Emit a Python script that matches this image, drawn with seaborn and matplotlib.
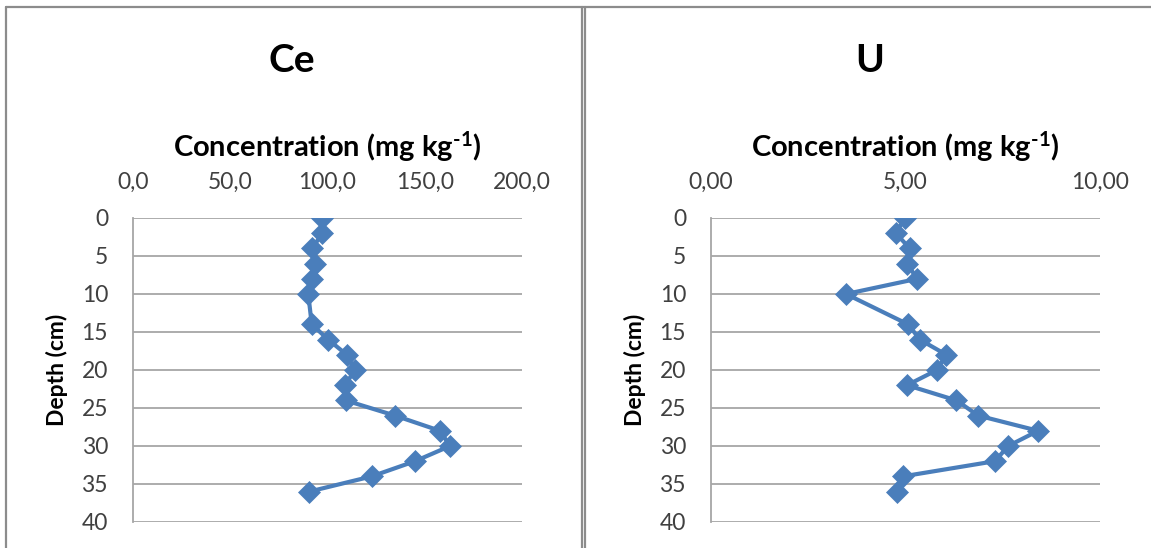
import matplotlib
matplotlib.use("Agg")
import matplotlib.pyplot as plt
import seaborn as sns
from matplotlib.lines import Line2D

# ---- data ----
depth = [0, 2, 4, 6, 8, 10, 14, 16, 18, 20, 22, 24, 26, 28, 30, 32, 34, 36]
ce = [97.3, 97.3, 92.2, 93.6, 92.2, 90.1, 91.9, 100.4, 109.9, 114.1, 109.0,
      109.3, 134.7, 157.8, 163.0, 145.0, 122.7, 90.6]
u = [4.98, 4.75, 5.11, 5.04, 5.30, 3.47, 5.07, 5.37, 6.05, 5.81, 5.04,
     6.31, 6.87, 8.41, 7.64, 7.30, 4.93, 4.79]
titles = ["Ce", "U"]
xlabel = "Concentration (mg kg$^{\\text{-}\\mathbf{1}}$)"
ylabel = "Depth (cm)"
ce_ticks = [0, 50, 100, 150, 200]
ce_ticklabels = ["0,0", "50,0", "100,0", "150,0", "200,0"]
u_ticks = [0, 5, 10]
u_ticklabels = ["0,00", "5,00", "10,00"]
y_ticks = [0, 5, 10, 15, 20, 25, 30, 35, 40]

sns.set_style("white")
plt.rcParams["font.family"] = ["Lato", "DejaVu Sans"]
plt.rcParams["mathtext.fontset"] = "custom"
plt.rcParams["mathtext.rm"] = "Lato:bold"
plt.rcParams["mathtext.bf"] = "Lato:bold"
plt.rcParams["mathtext.it"] = "Lato:italic"

W, H = 1151, 548
fig = plt.figure(figsize=(W / 100, H / 100), dpi=100)
fig.patch.set_facecolor("white")

blue = "#4a7ebb"
grid_c = "#a6a6a6"
text_c = "#404040"

panels = [
    (ce, ce_ticks, ce_ticklabels, 133, 522, 292),
    (u, u_ticks, u_ticklabels, 711, 1100, 870),
]
for i, (vals, xt, xtl, x0, x1, tcx) in enumerate(panels):
    ax = fig.add_axes([x0 / W, 1 - 522 / H, (x1 - x0) / W, (522 - 218) / H])
    sns.lineplot(x=vals, y=depth, sort=False, estimator=None, ax=ax,
                 color=blue, linewidth=3.0, marker="D", markersize=11,
                 markeredgecolor=blue, markeredgewidth=0.5, zorder=3)
    ax.set_xlim(xt[0], xt[-1])
    ax.set_ylim(40, 0)
    ax.xaxis.tick_top()
    ax.xaxis.set_label_position("top")
    ax.set_xticks(xt)
    ax.set_xticklabels(xtl)
    ax.set_yticks(y_ticks)
    ax.set_yticklabels([str(t) for t in y_ticks])
    ax.tick_params(axis="both", length=0, labelsize=16.5, colors=text_c)
    ax.tick_params(axis="x", pad=18)
    ax.tick_params(axis="y", pad=18)
    ax.grid(axis="y", color=grid_c, linewidth=1.3)
    ax.grid(axis="x", visible=False)
    ax.set_axisbelow(True)
    for s in ["top", "right", "bottom"]:
        ax.spines[s].set_visible(False)
    ax.spines["left"].set_color(grid_c)
    ax.spines["left"].set_linewidth(1.3)
    ax.set_xlabel(xlabel, fontsize=21, fontweight="bold", color="black", labelpad=11)
    ax.set_ylabel(ylabel, fontsize=16.5, fontweight="bold", color="black", labelpad=10)
    fig.text(tcx / W, 1 - 60 / H, titles[i], fontsize=28, fontweight="bold",
             ha="center", va="center", color="black")

# chart-area borders
frame_c = "#8c8c8c"
ty = 1 - 6.5 / H
fig.add_artist(Line2D([6 / W, 6 / W], [0, ty], color=frame_c, lw=1.6))
fig.add_artist(Line2D([6 / W, 1], [ty, ty], color=frame_c, lw=1.6))
fig.add_artist(Line2D([581.5 / W, 581.5 / W], [0, ty], color=frame_c, lw=1.6))
fig.add_artist(Line2D([585 / W, 585 / W], [0, ty], color=frame_c, lw=1.6))

fig.savefig("out.png", dpi=100, facecolor="white")
